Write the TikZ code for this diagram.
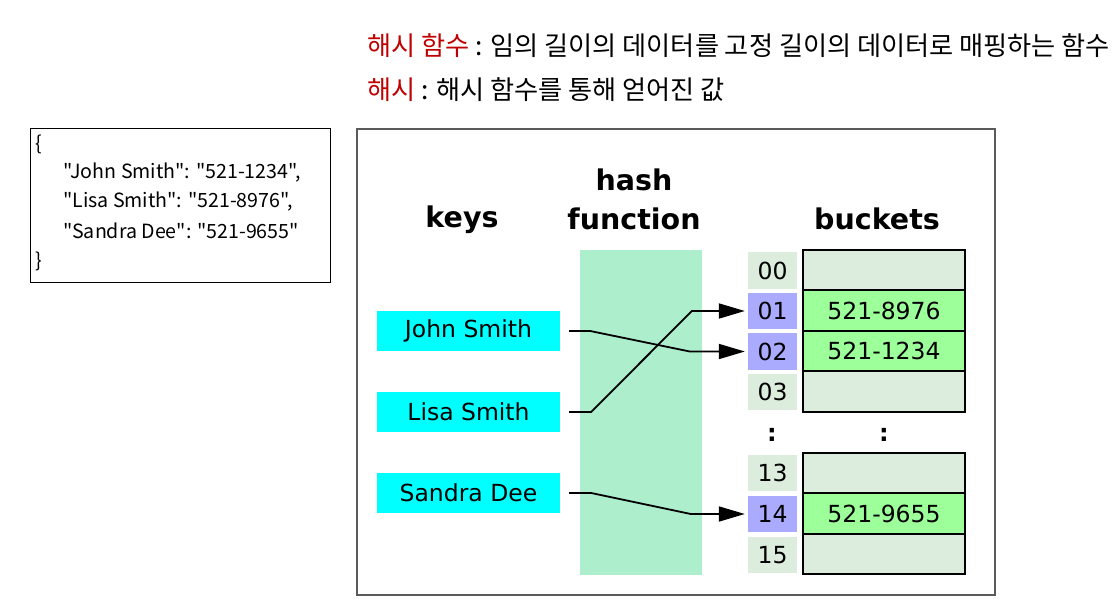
\documentclass[tikz,border=0pt]{standalone}
\usepackage{fontspec}
\usetikzlibrary{arrows.meta,calc}
\newfontfamily\kor{Noto Sans CJK KR}
\newfontfamily\dvs{DejaVu Sans}
\definecolor{hred}{RGB}{192,0,0}
\definecolor{keyc}{RGB}{0,255,255}
\definecolor{hashc}{RGB}{173,238,205}
\definecolor{idxc}{RGB}{221,237,221}
\definecolor{selc}{RGB}{170,170,255}
\definecolor{fullc}{RGB}{156,255,153}
\definecolor{boxgray}{RGB}{90,90,90}
\tikzset{
  keybox/.style={fill=keyc, minimum width=183pt, minimum height=40pt, inner sep=0pt, font=\dvs\fontsize{23.5}{28}\selectfont},
  idx/.style={fill=idxc, minimum width=49pt, minimum height=36.5pt, inner sep=0pt, font=\dvs\fontsize{23.5}{28}\selectfont},
  bucket/.style={draw, line width=1.8pt, minimum width=162pt, minimum height=40.5pt, inner sep=0pt, font=\dvs\fontsize{23.5}{28}\selectfont},
  head/.style={font=\dvs\bfseries\fontsize{28.5}{32}\selectfont, inner sep=0pt},
  conn/.style={line width=1.8pt, -{Triangle[length=26pt,width=15pt]}},
  json/.style={anchor=west, inner sep=0pt, font=\kor\fontsize{19.6}{23}\selectfont},
  topline/.style={anchor=west, inner sep=0pt, font=\kor\fontsize{26.2}{30}\selectfont}
}
\begin{document}
\begin{tikzpicture}[x=1pt,y=-1pt]
\useasboundingbox (0,0) rectangle (1116,607);
% top definitions
\node[topline] (t1) at (367,46) {\textcolor{hred}{해시 함수} : 임의 길이의 데이터를 고정 길이의 데이터로 매핑하는 함수};
\node[topline] (t2) at (367,90) {\textcolor{hred}{해시} : 해시 함수를 통해 얻어진 값};
% json box
\draw[line width=1pt] (30,129) rectangle (330,282);
\node[json] (j0) at (35,144) {\{};
\node[json] (j1) at (63,173) {"John Smith": "521-1234",};
\node[json] (j2) at (63,202) {"Lisa Smith": "521-8976",};
\node[json] (j3) at (63,231) {"Sandra Dee": "521-9655"};
\node[json] (j4) at (35,261) {\}};
% diagram frame
\draw[boxgray, line width=1.2pt] (357,129) rectangle (995,595);
% hash function band
\fill[hashc] (580,250) rectangle (702,575);
% headings
\node[head] (hk) at (462,220) {keys};
\node[head] (hh) at (634,180) {hash};
\node[head] (hf) at (634,219) {function};
\node[head] (hb) at (877,219) {buckets};
% keys
\node[keybox] (jk) at (468.5,331) {John Smith};
\node[keybox] (lk) at (468.5,412) {Lisa Smith};
\node[keybox] (sk) at (468.5,493) {Sandra Dee};
% index cells
\node[idx] (i00) at (772.5,270.5) {00};
\node[idx, fill=selc] (i01) at (772.5,311) {01};
\node[idx, fill=selc] (i02) at (772.5,351.5) {02};
\node[idx] (i03) at (772.5,392) {03};
\node[idx] (i13) at (772.5,473) {13};
\node[idx, fill=selc] (i14) at (772.5,514) {14};
\node[idx] (i15) at (772.5,555) {15};
% buckets
\node[bucket, fill=idxc] (b00) at (884,270) {};
\node[bucket, fill=fullc] (b01) at (884,310.5) {521-8976};
\node[bucket, fill=fullc] (b02) at (884,351) {521-1234};
\node[bucket, fill=idxc] (b03) at (884,391.5) {};
\node[bucket, fill=idxc] (b13) at (884,473) {};
\node[bucket, fill=fullc] (b14) at (884,513.5) {521-9655};
\node[bucket, fill=idxc] (b15) at (884,554) {};
% ellipsis
\node[head, font=\dvs\bfseries\fontsize{24}{28}\selectfont] (d1) at (772,435) {:};
\node[head, font=\dvs\bfseries\fontsize{24}{28}\selectfont] (d2) at (884,435) {:};
% connectors
\draw[conn] ($(jk.east)+(9,0)$) -- ++(21,0) -- ($(i02.west)+(-58,0)$) -- ($(i02.west)+(-3,0)$);
\draw[conn] ($(lk.east)+(9,0)$) -- ++(22,0) -- ($(i01.west)+(-56,0)$) -- ($(i01.west)+(-3,0)$);
\draw[conn] ($(sk.east)+(9,0)$) -- ++(22,0) -- ($(i14.west)+(-57,0)$) -- ($(i14.west)+(-3,0)$);
\end{tikzpicture}
\end{document}
